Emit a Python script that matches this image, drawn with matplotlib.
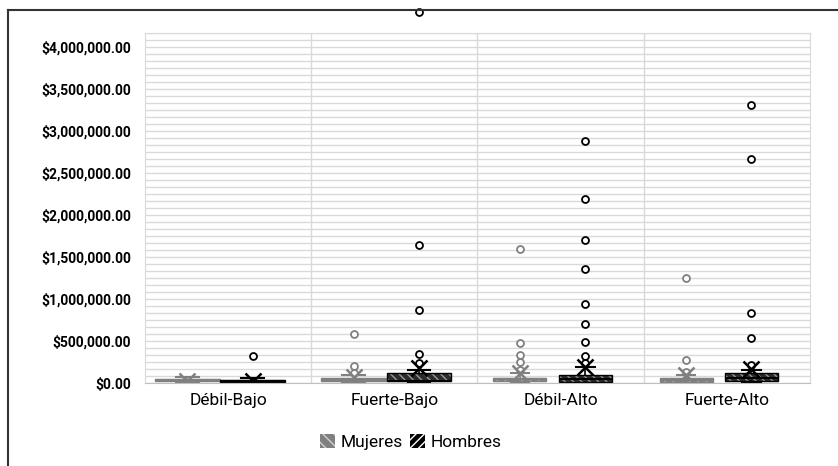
import matplotlib
matplotlib.use("Agg")
import matplotlib.pyplot as plt
from matplotlib.patches import Patch, PathPatch
from matplotlib.lines import Line2D
from matplotlib.ticker import MultipleLocator

# Categories and per-group box statistics (pesos)
categories = ["Débil-Bajo", "Fuerte-Bajo", "Débil-Alto", "Fuerte-Alto"]
series = ["Mujeres", "Hombres"]
y_ticks = [0, 500000, 1000000, 1500000, 2000000, 2500000, 3000000, 3500000, 4000000]

muj_q1 = [20000, 25000, 25000, 15000]
muj_med = [35000, 40000, 45000, 35000]
muj_q3 = [50000, 55000, 65000, 55000]
muj_lo = [0, 0, 0, 0]
muj_hi = [70000, 95000, 120000, 90000]
muj_mean = [22000, 70000, 123000, 96000]
muj_out = [[], [586000, 207000, 116000], [1590000, 482000, 335000, 248000, 155000],
           [1256000, 275000, 128000]]

hom_q1 = [15000, 25000, 15000, 30000]
hom_med = [30000, 30000, 50000, 60000]
hom_q3 = [40000, 125000, 95000, 115000]
hom_lo = [0, 0, 0, 0]
hom_hi = [60000, 160000, 195000, 160000]
hom_mean = [30000, 176000, 195000, 164000]
hom_out = [[323000], [4420000, 1638000, 873000, 343000, 243000],
           [2880000, 2190000, 1700000, 1360000, 945000, 706000, 490000, 323000, 240000],
           [3310000, 2667000, 838000, 538000, 215000]]

box_widths = [0.39, 0.39, 0.32, 0.32]

FONT = ["Roboto", "DejaVu Sans"]
plt.rcParams["hatch.linewidth"] = 1.0
fig = plt.figure(figsize=(8.38, 4.66), dpi=100)
ax = fig.add_axes([0.173, 0.178, 0.7936, 0.7512])

GRID = "#d9d9d9"
M_COLOR = "#808080"
H_COLOR = "#000000"


def stats(q1, med, q3, lo, hi, mean, out):
    return [dict(q1=a, med=b, q3=c, whislo=d, whishi=e, mean=f, fliers=g)
            for a, b, c, d, e, f, g in zip(q1, med, q3, lo, hi, mean, out)]


def draw(st, offset, color, face, hatch_col, hatch):
    for i, s in enumerate(st):
        w = box_widths[i]
        art = ax.bxp([s], positions=[i + offset], widths=w, patch_artist=True,
                     showmeans=True, meanline=False, showcaps=True,
                     boxprops=dict(facecolor=face, edgecolor=hatch_col, hatch=hatch, linewidth=0),
                     medianprops=dict(color=color, linewidth=1.5),
                     whiskerprops=dict(color=color, linewidth=1.2),
                     capprops=dict(color=color, linewidth=1.5),
                     capwidths=w * 0.35,
                     meanprops=dict(marker="x", markersize=12, markeredgewidth=1.8,
                                    markeredgecolor=color, markerfacecolor="none"),
                     flierprops=dict(marker="o", markersize=5, markerfacecolor="white",
                                     markeredgecolor=color, markeredgewidth=1.3))
        for b in art["boxes"]:
            ax.add_patch(PathPatch(b.get_path(), fill=False, edgecolor=color,
                                   linewidth=1.0, zorder=b.get_zorder() + 0.1))
        for f in art["fliers"]:
            f.set_clip_on(False)


draw(stats(muj_q1, muj_med, muj_q3, muj_lo, muj_hi, muj_mean, muj_out),
     -0.245, M_COLOR, M_COLOR, "#b0b0b0", "\\\\\\\\")
draw(stats(hom_q1, hom_med, hom_q3, hom_lo, hom_hi, hom_mean, hom_out),
     0.148, H_COLOR, "#2b2b2b", "#9a9a9a", "\\\\\\\\")

ax.set_xlim(-0.5, 3.5)
ax.set_ylim(0, 4166667)
ax.set_yticks(y_ticks, [f"${v:,.2f}" for v in y_ticks],
              fontweight="bold", fontsize=10, family=FONT)
ax.yaxis.set_minor_locator(MultipleLocator(500000 / 6))
ax.grid(axis="y", which="both", color=GRID, linewidth=1.0, zorder=0)
ax.set_axisbelow(True)
for k in range(1, 4):
    ax.axvline(k - 0.5, color=GRID, linewidth=1.0, zorder=0)
for sp in ax.spines.values():
    sp.set_color(GRID)
ax.spines["bottom"].set_color("#bfbfbf")

ax.set_xticks(range(len(categories)), categories, fontsize=12.5, family=FONT)
ax.tick_params(axis="x", length=0, pad=7)
ax.tick_params(axis="y", which="both", length=0, pad=10)

handles = [Patch(facecolor=M_COLOR, edgecolor="#d0d0d0", hatch="\\\\\\", linewidth=0),
           Patch(facecolor="#000000", edgecolor="#ffffff", hatch="////", linewidth=0)]
fig.legend(handles, series, loc="center", bbox_to_anchor=(0.49, 0.0515), ncol=2,
           frameon=False, handlelength=0.9, handleheight=0.9, handletextpad=0.3,
           columnspacing=0.4, prop=dict(family=FONT, size=12.5))

# Outer chart frame
fig.add_artist(Line2D([8 / 838, 8 / 838], [0, 1 - 10 / 466], color="#333333", linewidth=1.5,
                      transform=fig.transFigure))
fig.add_artist(Line2D([8 / 838, 1], [1 - 10 / 466, 1 - 10 / 466], color="#333333", linewidth=1.5,
                      transform=fig.transFigure))

fig.savefig("out.png", dpi=100)
